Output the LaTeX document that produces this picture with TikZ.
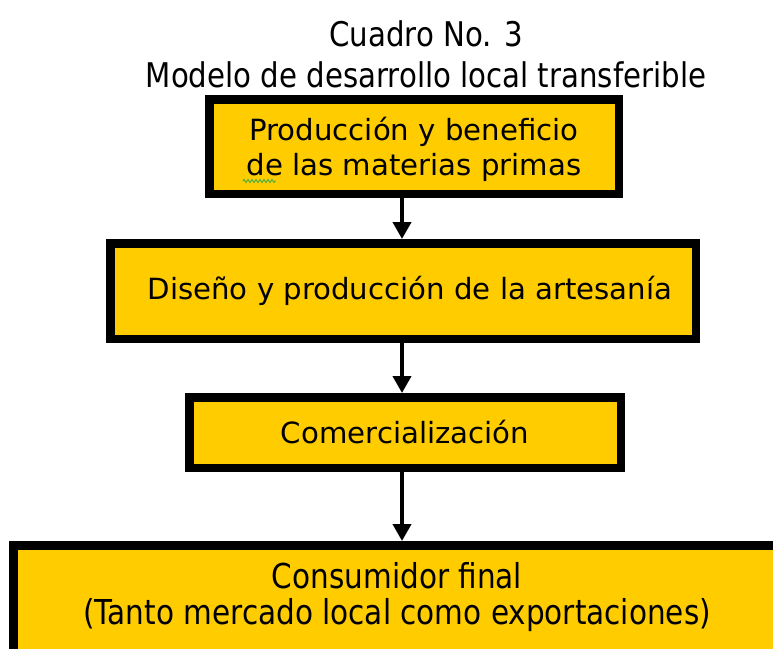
\documentclass[tikz,border=0pt]{standalone}
\usepackage{fontspec}
\setmainfont{DejaVu Sans}
\newfontfamily\narrowfont[FakeStretch=0.86]{DejaVu Sans}
\usetikzlibrary{arrows.meta,decorations.pathmorphing}
\definecolor{boxyellow}{HTML}{FFCC00}
\definecolor{spellgreen}{HTML}{55B043}
\begin{document}
\begin{tikzpicture}[x=1pt,y=-1pt,
  stage/.style={draw=black,fill=boxyellow,line width=8.5pt,inner sep=0pt,align=center,
    font=\fontsize{29.2}{35}\selectfont},
  wide/.style={draw=black,fill=boxyellow,line width=8.5pt,inner sep=0pt,align=center,
    font=\narrowfont\fontsize{34.3}{35.5}\selectfont},
  arr/.style={line width=4pt,-{Triangle[width=18pt,length=17pt]}},
  ttl/.style={anchor=base,inner sep=0pt,font=\narrowfont\fontsize{34}{41}\selectfont}]
\useasboundingbox (0,0) rectangle (773,648);
\clip (0,0) rectangle (773,648);
\fill[white] (0,0) rectangle (773,648);

\node[ttl] (t1) at (426,46) {Cuadro No. 3};
\node[ttl] (t2) at (426,87) {Modelo de desarrollo local transferible};

\node[stage,minimum width=409.5pt,minimum height=94.5pt] (b1) at (414,146.5)
  {\rule{0pt}{30pt}Producción y beneficio\\de las materias primas};
\node[stage,minimum width=585.5pt,minimum height=95.5pt] (b2) at (403,291)
  {\hspace*{14pt}Diseño y producción de la artesanía};
\node[stage,minimum width=431.5pt,minimum height=70.5pt] (b3) at (405,432.5)
  {Comercialización};
\node[wide,minimum width=767.5pt,minimum height=110.5pt] (b4) at (397,600.5)
  {Consumidor final\\(Tanto mercado local como exportaciones)\rule[-14pt]{0pt}{14pt}};

\coordinate (ax) at (402,0);
\draw[arr] (b1.south -| ax) -- (b2.north -| ax);
\draw[arr] (b2.south -| ax) -- (b3.north -| ax);
\draw[arr] (b3.south -| ax) -- (b4.north -| ax);

\draw[spellgreen,line width=1pt,decorate,decoration={zigzag,segment length=4pt,amplitude=1.5pt}]
  (243,181) -- (276,181);
\end{tikzpicture}
\end{document}
